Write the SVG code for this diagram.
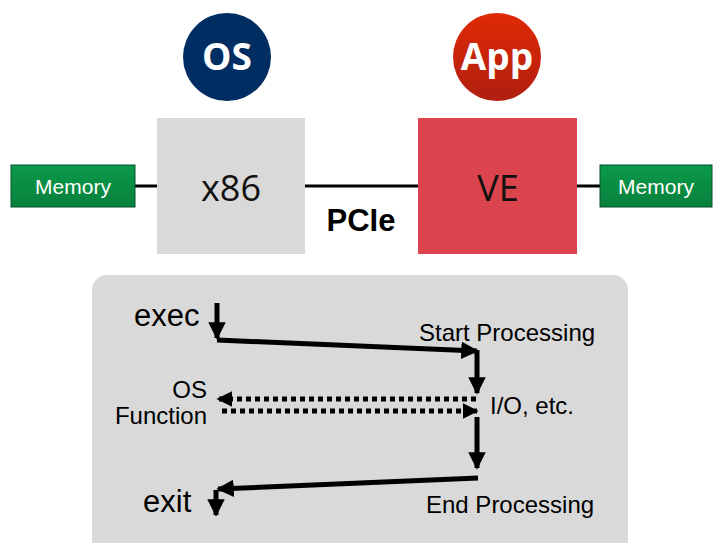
<svg xmlns="http://www.w3.org/2000/svg" width="713" height="543" viewBox="0 0 713 543">
<defs>
<linearGradient id="gMem" x1="0" y1="0" x2="0" y2="1"><stop offset="0" stop-color="#0b9a4a"/><stop offset="1" stop-color="#08803c"/></linearGradient>
<linearGradient id="gApp" x1="0" y1="0" x2="0" y2="1"><stop offset="0" stop-color="#e02a04"/><stop offset="1" stop-color="#b01f10"/></linearGradient>
<marker id="ah" viewBox="0 0 10 10" refX="9" refY="5" markerWidth="3.5" markerHeight="3.5" orient="auto" markerUnits="strokeWidth"><path d="M0,0 L10,5 L0,10 z" fill="#000"/></marker>
<marker id="ahd" viewBox="0 0 10 10" refX="9" refY="5" markerWidth="3.2" markerHeight="3.2" orient="auto" markerUnits="strokeWidth"><path d="M0,0 L10,5 L0,10 z" fill="#000"/></marker>
</defs>
<style>
.mem{fill:url(#gMem);stroke:#06502a;stroke-width:1}
.memt{font-family:"Liberation Sans",Arial,sans-serif;font-size:21px;fill:#fff;text-anchor:middle}
.big{font-family:"Open Sans","Noto Sans",sans-serif;font-size:36px;fill:#111;text-anchor:middle}
.circ{font-family:"Open Sans","Noto Sans",sans-serif;font-weight:bold;font-size:37px;fill:#fff;text-anchor:middle}
.lab{font-family:"Liberation Sans",Arial,sans-serif;fill:#000}
.flow{stroke:#000;stroke-width:5;fill:none;marker-end:url(#ah)}
.dash{stroke:#000;stroke-width:5;fill:none;stroke-dasharray:5 4;marker-end:url(#ahd)}
</style>
<rect width="713" height="543" fill="#fff"/>
<g id="connectors-top">
<line x1="135" y1="186" x2="600" y2="186" stroke="#000" stroke-width="3"/>
</g>
<g id="os"><circle cx="227" cy="57" r="44" fill="#002d62"/><text x="227" y="70" class="circ">OS</text></g>
<g id="app"><circle cx="497" cy="57" r="44" fill="url(#gApp)"/><text x="497" y="70" class="circ">App</text></g>
<g id="mem-left"><rect x="11" y="165" width="124" height="42" class="mem"/><text x="73" y="194" class="memt">Memory</text></g>
<g id="mem-right"><rect x="600" y="165" width="112" height="42" class="mem"/><text x="656" y="194" class="memt">Memory</text></g>
<g id="x86"><rect x="157" y="118" width="148" height="136" fill="#d9d9d9"/><text x="231" y="201" class="big">x86</text></g>
<g id="ve"><rect x="418" y="118" width="159" height="136" fill="#db444d"/><text x="498" y="201" class="big">VE</text></g>
<g id="pcie"><text x="361" y="231" class="lab" font-size="31" font-weight="bold" text-anchor="middle">PCIe</text></g>
<g id="panel"><rect x="92" y="275" width="536" height="290" rx="15" fill="#d9d9d9"/></g>
<g id="labels">
<text x="134" y="326" class="lab" font-size="31">exec</text>
<text x="143" y="512" class="lab" font-size="31">exit</text>
<text x="419" y="341" class="lab" font-size="24">Start Processing</text>
<text x="490" y="414" class="lab" font-size="24">I/O, etc.</text>
<text x="426" y="513" class="lab" font-size="24">End Processing</text>
<text x="207" y="398" class="lab" font-size="24" text-anchor="end">OS</text>
<text x="207" y="424" class="lab" font-size="24" text-anchor="end">Function</text>
</g>
<g id="connectors">
<line x1="217" y1="303" x2="217" y2="338" class="flow"/>
<line x1="217" y1="340" x2="477" y2="351" class="flow"/>
<line x1="477" y1="350" x2="477" y2="393" class="flow"/>
<line x1="476" y1="399" x2="218" y2="399" class="dash"/>
<line x1="222" y1="411" x2="477" y2="411" class="dash"/>
<line x1="477" y1="417" x2="477" y2="468" class="flow"/>
<line x1="478" y1="478" x2="218" y2="489" class="flow"/>
<line x1="216" y1="490" x2="216" y2="515" class="flow"/>
</g>
</svg>
